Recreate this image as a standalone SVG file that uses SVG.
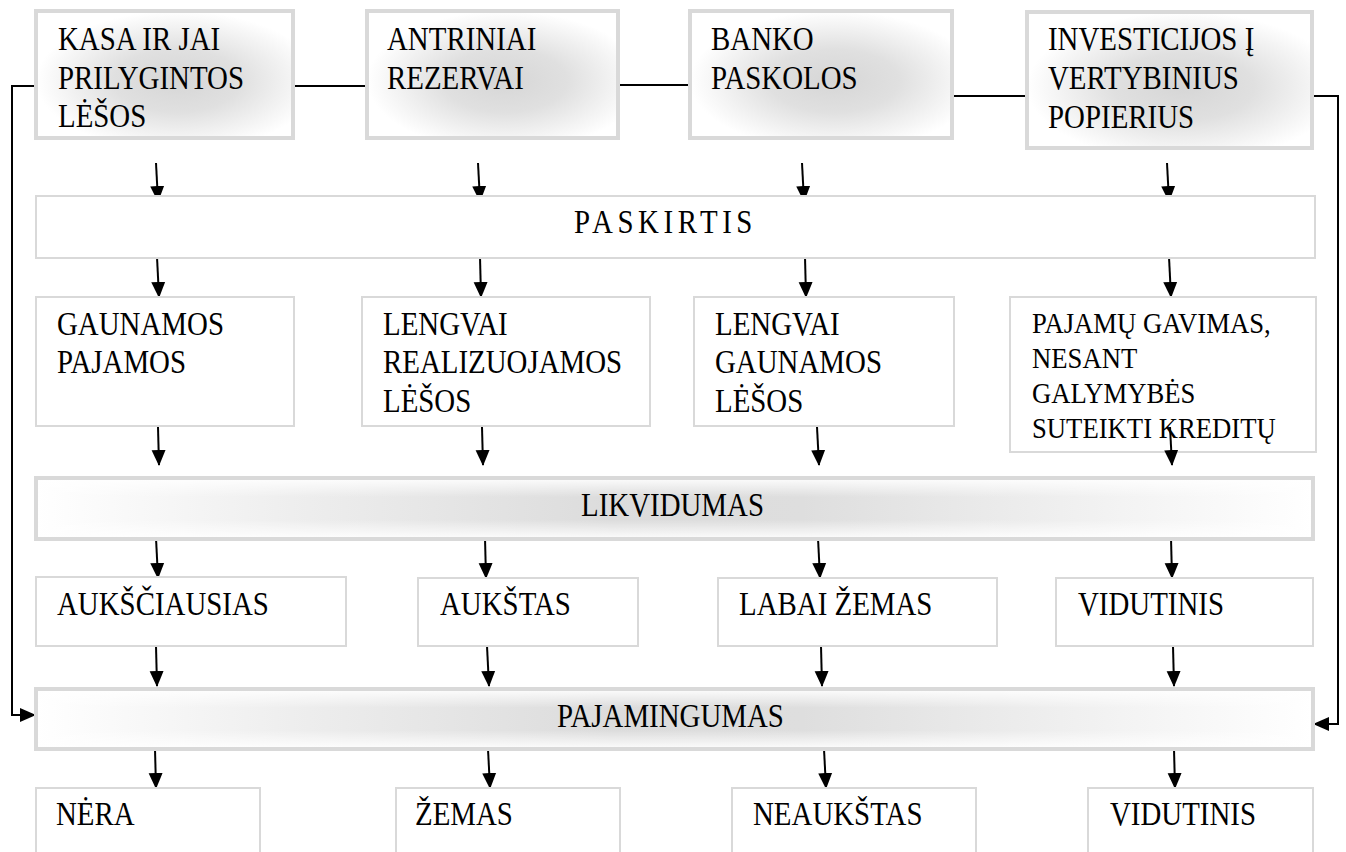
<svg xmlns="http://www.w3.org/2000/svg" width="1346" height="852" viewBox="0 0 1346 852">
<defs>
<style>
text{font-family:"Liberation Serif","Times New Roman",serif;font-size:34px;fill:#000}
.small{font-size:29px}
.thick{stroke:#d9d9d9;stroke-width:4}
.thin{fill:#fff;stroke:#d9d9d9;stroke-width:2}
.bar{stroke:#d9d9d9;stroke-width:4}
.c{fill:none;stroke:#000;stroke-width:2}
.a{fill:none;stroke:#000;stroke-width:2;marker-end:url(#ah)}
</style>
<marker id="ah" viewBox="0 0 16 16" refX="15" refY="8" markerWidth="16" markerHeight="16" orient="auto" markerUnits="userSpaceOnUse">
<path d="M0,1 L16,8 L0,15 z" fill="#000"/>
</marker>
<radialGradient id="boxg" cx="0.55" cy="0.55" r="0.55">
<stop offset="0" stop-color="#d6d6d6"/>
<stop offset="0.45" stop-color="#e0e0e0"/>
<stop offset="1" stop-color="#ffffff"/>
</radialGradient>
<linearGradient id="barh" x1="0" y1="0" x2="1" y2="0">
<stop offset="0" stop-color="#ffffff"/>
<stop offset="0.2" stop-color="#eeeeee"/>
<stop offset="0.45" stop-color="#dcdcdc"/>
<stop offset="0.6" stop-color="#dedede"/>
<stop offset="0.85" stop-color="#f3f3f3"/>
<stop offset="1" stop-color="#ffffff"/>
</linearGradient>
<linearGradient id="barv" x1="0" y1="0" x2="0" y2="1">
<stop offset="0" stop-color="#ffffff" stop-opacity="0.85"/>
<stop offset="0.3" stop-color="#ffffff" stop-opacity="0"/>
<stop offset="0.7" stop-color="#ffffff" stop-opacity="0"/>
<stop offset="1" stop-color="#ffffff" stop-opacity="0.85"/>
</linearGradient>
</defs>
<rect width="1346" height="852" fill="#fff"/>

<g id="connectors">
<polyline class="c" points="295,86 365,86"/>
<polyline class="c" points="620,85 688,85"/>
<polyline class="c" points="954,96 1025,96"/>
<polyline class="a" points="34,86 12,86 12,715 35,715"/>
<polyline class="a" points="1314,96 1338,96 1338,724 1314,724"/>
<line class="a" x1="156" y1="163" x2="158" y2="201"/>
<line class="a" x1="478" y1="163" x2="480" y2="201"/>
<line class="a" x1="802" y1="163" x2="804" y2="201"/>
<line class="a" x1="1167" y1="163" x2="1169" y2="201"/>
<line class="a" x1="157" y1="257" x2="159" y2="297"/>
<line class="a" x1="480" y1="257" x2="481" y2="297"/>
<line class="a" x1="805" y1="257" x2="806" y2="297"/>
<line class="a" x1="1169" y1="257" x2="1171" y2="297"/>
<line class="a" x1="158" y1="427" x2="159" y2="465"/>
<line class="a" x1="482" y1="427" x2="483" y2="465"/>
<line class="a" x1="817" y1="427" x2="819" y2="465"/>
<line class="a" x1="156" y1="538" x2="158" y2="578"/>
<line class="a" x1="485" y1="538" x2="486" y2="578"/>
<line class="a" x1="818" y1="538" x2="820" y2="578"/>
<line class="a" x1="1171" y1="538" x2="1172" y2="578"/>
<line class="a" x1="156" y1="646" x2="157" y2="686"/>
<line class="a" x1="487" y1="646" x2="489" y2="686"/>
<line class="a" x1="821" y1="646" x2="822" y2="686"/>
<line class="a" x1="1173" y1="646" x2="1174" y2="686"/>
<line class="a" x1="155" y1="749" x2="156" y2="788"/>
<line class="a" x1="488" y1="749" x2="490" y2="788"/>
<line class="a" x1="824" y1="749" x2="826" y2="788"/>
<line class="a" x1="1174" y1="749" x2="1175" y2="788"/>
</g>

<g id="n-kasa">
<rect class="thick" x="36" y="11" width="257" height="127" fill="url(#boxg)"/>
<text transform="translate(58,50) scale(0.85,1)"><tspan x="0">KASA IR JAI</tspan><tspan x="0" dy="39">PRILYGINTOS</tspan><tspan x="0" dy="38">LĖŠOS</tspan></text>
</g>
<g id="n-antriniai">
<rect class="thick" x="367" y="11" width="251" height="127" fill="url(#boxg)"/>
<text transform="translate(387,50) scale(0.85,1)"><tspan x="0">ANTRINIAI</tspan><tspan x="0" dy="39">REZERVAI</tspan></text>
</g>
<g id="n-banko">
<rect class="thick" x="690" y="11" width="262" height="127" fill="url(#boxg)"/>
<text transform="translate(711,50) scale(0.85,1)"><tspan x="0">BANKO</tspan><tspan x="0" dy="39">PASKOLOS</tspan></text>
</g>
<g id="n-investicijos">
<rect class="thick" x="1027" y="12" width="285" height="136" fill="url(#boxg)"/>
<text transform="translate(1048,50) scale(0.85,1)"><tspan x="0">INVESTICIJOS Į</tspan><tspan x="0" dy="39">VERTYBINIUS</tspan><tspan x="0" dy="39">POPIERIUS</tspan></text>
</g>

<g id="n-paskirtis">
<rect class="thin" x="36" y="196" width="1279" height="62"/>
<text transform="translate(574,233) scale(0.85,1)" letter-spacing="5.4">PASKIRTIS</text>
</g>

<g id="n-gaunamos">
<rect class="thin" x="36" y="297" width="258" height="129"/>
<text transform="translate(57,335) scale(0.85,1)"><tspan x="0">GAUNAMOS</tspan><tspan x="0" dy="38">PAJAMOS</tspan></text>
</g>
<g id="n-lengvai-real">
<rect class="thin" x="362" y="297" width="288" height="129"/>
<text transform="translate(383,335) scale(0.85,1)"><tspan x="0">LENGVAI</tspan><tspan x="0" dy="38">REALIZUOJAMOS</tspan><tspan x="0" dy="39">LĖŠOS</tspan></text>
</g>
<g id="n-lengvai-gaun">
<rect class="thin" x="694" y="297" width="260" height="129"/>
<text transform="translate(715,335) scale(0.85,1)"><tspan x="0">LENGVAI</tspan><tspan x="0" dy="38">GAUNAMOS</tspan><tspan x="0" dy="39">LĖŠOS</tspan></text>
</g>
<g id="n-pajamu">
<rect class="thin" x="1010" y="297" width="306" height="155"/>
<text class="small" transform="translate(1032,333) scale(0.92,1)"><tspan x="0">PAJAMŲ GAVIMAS,</tspan><tspan x="0" dy="35">NESANT</tspan><tspan x="0" dy="35">GALYMYBĖS</tspan><tspan x="0" dy="35">SUTEIKTI KREDITŲ</tspan></text>
</g>
<line class="a" x1="1170" y1="427" x2="1172" y2="465"/>

<g id="n-likvidumas">
<rect class="bar" x="36" y="478" width="1277" height="61" fill="url(#barh)"/>
<rect x="38" y="480" width="1273" height="57" fill="url(#barv)"/>
<text transform="translate(581,516) scale(0.85,1)">LIKVIDUMAS</text>
</g>

<g id="n-auksciausias">
<rect class="thin" x="36" y="577" width="310" height="69"/>
<text transform="translate(57,615) scale(0.85,1)">AUKŠČIAUSIAS</text>
</g>
<g id="n-aukstas">
<rect class="thin" x="418" y="578" width="220" height="68"/>
<text transform="translate(440,615) scale(0.85,1)">AUKŠTAS</text>
</g>
<g id="n-labai-zemas">
<rect class="thin" x="718" y="578" width="279" height="68"/>
<text transform="translate(739,615) scale(0.85,1)">LABAI ŽEMAS</text>
</g>
<g id="n-vidutinis1">
<rect class="thin" x="1056" y="578" width="257" height="68"/>
<text transform="translate(1078,615) scale(0.85,1)">VIDUTINIS</text>
</g>

<g id="n-pajamingumas">
<rect class="bar" x="36" y="689" width="1277" height="60" fill="url(#barh)"/>
<rect x="38" y="691" width="1273" height="56" fill="url(#barv)"/>
<text transform="translate(557,727) scale(0.85,1)">PAJAMINGUMAS</text>
</g>

<g id="n-nera">
<rect class="thin" x="36" y="788" width="224" height="80"/>
<text transform="translate(56,825) scale(0.85,1)">NĖRA</text>
</g>
<g id="n-zemas">
<rect class="thin" x="396" y="788" width="224" height="80"/>
<text transform="translate(415,825) scale(0.85,1)">ŽEMAS</text>
</g>
<g id="n-neaukstas">
<rect class="thin" x="732" y="788" width="244" height="80"/>
<text transform="translate(753,825) scale(0.85,1)">NEAUKŠTAS</text>
</g>
<g id="n-vidutinis2">
<rect class="thin" x="1088" y="788" width="225" height="80"/>
<text transform="translate(1110,825) scale(0.85,1)">VIDUTINIS</text>
</g>
</svg>
